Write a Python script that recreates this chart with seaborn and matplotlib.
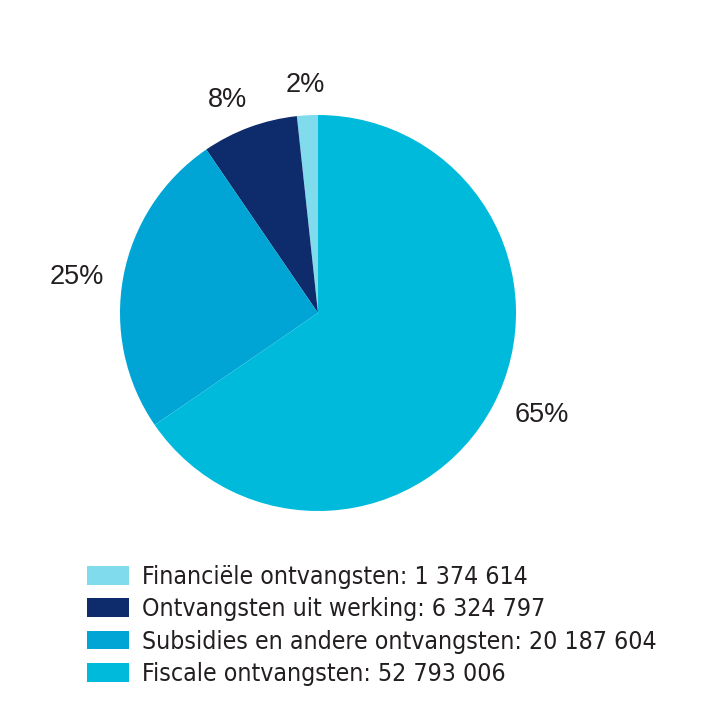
import matplotlib.pyplot as plt
import seaborn as sns
import numpy as np

# data
labels = ["Financiële ontvangsten", "Ontvangsten uit werking",
          "Subsidies en andere ontvangsten", "Fiscale ontvangsten"]
values = [1374614, 6324797, 20187604, 52793006]
colors = ["#80dcec", "#0e2b6b", "#00a5d6", "#00badb"]

sns.set_style("white")
plt.rcParams['font.family'] = ['DejaVu Sans']

def fmt(v):
    return f"{v:,}".replace(",", " ")

fig = plt.figure(figsize=(7.09, 7.2), dpi=100)
ax = fig.add_axes([(318 - 198) / 709, (720 - 313 - 198) / 720, 396 / 709, 396 / 720])

wedges, texts = ax.pie(
    values, colors=colors, startangle=90, counterclock=True,
    wedgeprops=dict(linewidth=0),
)
ax.set_xlim(-1, 1)
ax.set_ylim(-1, 1)
ax.set_aspect("equal")

# percentage labels outside the wedges
total = sum(values)
dists = [1.153, 1.168, 1.23, 1.24]
shift = [0.2, 2.7, 2.0, 3.3]
for w, v, d, s in zip(wedges, values, dists, shift):
    ang = np.deg2rad((w.theta1 + w.theta2) / 2 + s)
    ax.text(d * np.cos(ang), d * np.sin(ang), f"{100 * v / total:.0f}%",
            ha="center", va="center", fontsize=19.5, color="#231f20",
            family=["Liberation Sans", "DejaVu Sans"])

leg_labels = [f"{l}: {fmt(v)}" for l, v in zip(labels, values)]
fig.legend(wedges, leg_labels, loc="upper left", bbox_to_anchor=(65 / 709, 1 - 543 / 720),
           frameon=False, handlelength=1.7, handleheight=0.8,
           labelspacing=0.33, handletextpad=0.5, labelcolor="#231f20",
           prop=dict(family="DejaVu Sans", stretch="condensed", size=17.8))

plt.savefig("out.png", dpi=100)
